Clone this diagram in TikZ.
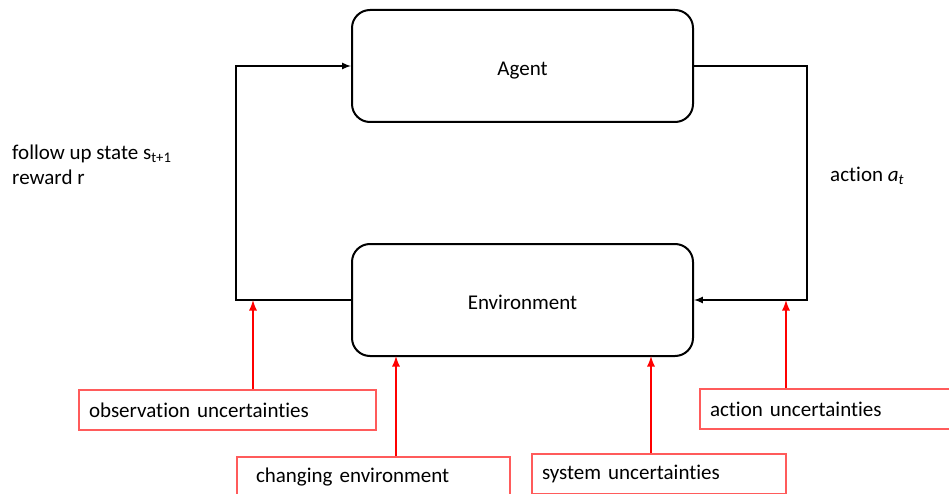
\documentclass[tikz,border=0pt]{standalone}
\usepackage{fontspec}
\setmainfont{Carlito}[Ligatures=NoCommon]
\usetikzlibrary{positioning}
\definecolor{boxred}{HTML}{FF5B5B}
\tikzset{
  block/.style={draw, line width=2pt, rounded corners=18pt, minimum width=341pt, minimum height=112pt, text height=18.5pt, text depth=0pt},
  uncbox/.style={draw=boxred, line width=1.3pt, minimum height=40pt, align=left, inner xsep=10pt},
  flow/.style={->, line width=2pt},
  noise/.style={->, red, line width=2.6pt}
}
\begin{document}
\begin{tikzpicture}[>=latex, x=1pt, y=-1pt, font=\fontsize{21}{25}\selectfont]
\useasboundingbox (0,0) rectangle (949,494);
\node[block] (agent) at (522.5,66) {Agent};
\node[block] (env) at (522.5,300) {Environment};

\draw[flow] (env.west) -- ++(-115,0) |- (agent.west);
\draw[flow] (agent.east) -- ++(113,0) |- (env.east);

\node[anchor=north west, align=left, inner sep=0pt] (state) at (12,145) {follow up state s\textsubscript{t+1}\\reward r};
\node[anchor=west, inner sep=0pt] (act) at (830,176) {action \textit{a}\textsubscript{\textit{t}}};

% uncertainties
\node[uncbox, text width=277pt] (obs) at (227.5,410) {observation uncertainties};
\node[uncbox, inner xsep=19pt, text width=235pt] (chg) at (373.5,477) {changing environment};
\node[uncbox, text width=234pt] (sys) at (659,474) {system uncertainties};
\node[uncbox, text width=250pt] (actu) at (835,409) {action uncertainties};

\coordinate (obsin) at (253,300);
\coordinate (chgin) at (396,356);
\coordinate (sysin) at (651,356);
\coordinate (actin) at (786,300);
\draw[noise] (obs.north -| obsin) -- (obsin);
\draw[noise] (chg.north -| chgin) -- (chgin);
\draw[noise] (sys.north -| sysin) -- (sysin);
\draw[noise] (actu.north -| actin) -- (actin);
\end{tikzpicture}
\end{document}
